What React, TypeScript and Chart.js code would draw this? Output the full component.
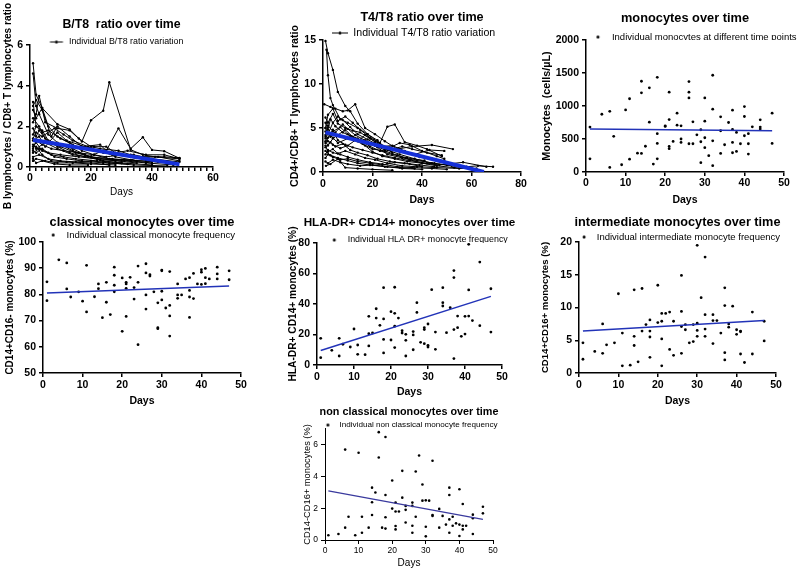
import React, { useEffect, useRef } from 'react';
import { Chart, registerables } from 'chart.js';

Chart.register(...registerables);

const FONT = "'Liberation Sans', Arial, Helvetica, sans-serif";

// ---------------- DATA ----------------
// B/T8 ratio: individual trajectories, [day, ratio]
const btRatioSeries: number[][][] = [
  [[1, 5.1], [2, 3.55], [4, 2.9], [9, 2.1], [13, 1.85], [17, 1.25], [20, 2.3], [24, 2.77], [26, 4.17], [33, 0.85], [37, 0.6], [41, 0.5], [49, 0.4]],
  [[1, 4.6], [2, 3.0], [3, 2.6], [6, 1.6], [9, 1.2], [14, 0.8], [20, 0.5], [28, 0.3], [35, 0.2]],
  [[1, 3.0], [2, 3.3], [4, 2.8], [7, 1.5], [9, 2.0], [13, 1.5], [17, 1.0], [23, 1.1], [25, 0.8], [29, 1.9], [33, 0.9], [37, 1.46], [40, 0.84], [44, 0.78], [49, 0.43]],
  [[1, 2.2], [2, 2.6], [3, 3.5], [5, 2.2], [9, 1.9], [13, 1.8], [16, 1.4], [20, 1.0], [23, 0.9], [29, 0.8], [33, 0.6]],
  [[1, 1.6], [2, 2.0], [4, 1.8], [6, 1.3], [10, 1.1], [14, 0.9], [18, 0.6], [24, 0.3], [30, 0.2]],
  [[1, 1.3], [3, 1.5], [5, 1.0], [9, 1.7], [12, 1.3], [18, 1.0], [22, 0.8], [27, 0.6], [34, 0.5], [42, 0.5], [49, 0.3]],
  [[1, 1.0], [2, 1.2], [4, 0.8], [7, 0.6], [11, 0.5], [15, 0.4], [22, 0.3], [30, 0.2], [40, 0.1]],
  [[1, 0.8], [2, 0.7], [4, 0.9], [8, 0.5], [12, 0.4], [17, 0.3], [24, 0.2], [32, 0.15]],
  [[1, 0.5], [3, 0.6], [6, 0.4], [10, 0.3], [15, 0.25], [20, 0.3], [26, 0.2], [34, 0.1], [45, 0.05]],
  [[1, 0.3], [2, 0.4], [5, 0.3], [9, 0.2], [14, 0.2], [20, 0.15], [28, 0.1]],
  [[1, 2.8], [2, 2.4], [4, 2.9], [6, 2.0], [9, 1.5], [13, 1.2], [17, 0.8], [21, 0.6], [25, 0.5], [30, 0.6], [36, 0.5], [44, 0.5], [49, 0.45]],
  [[1, 1.9], [2, 1.5], [3, 1.8], [6, 1.2], [10, 1.0], [15, 0.7], [20, 0.5], [27, 0.4], [33, 0.3], [40, 0.2]],
  [[1, 1.1], [2, 0.9], [5, 1.2], [9, 0.9], [14, 0.6], [19, 0.5], [24, 0.8], [28, 0.5], [35, 0.3], [42, 0.25], [48, 0.2]],
  [[1, 0.7], [3, 0.9], [6, 0.7], [10, 0.6], [16, 0.5], [22, 0.4], [30, 0.35], [38, 0.3], [46, 0.2]],
  [[1, 1.4], [2, 1.7], [4, 1.5], [8, 1.9], [11, 1.6], [14, 1.3], [19, 1.0], [24, 0.7], [29, 0.6], [34, 0.6], [40, 0.4], [49, 0.25]],
  [[2, 1.0], [4, 0.6], [7, 0.3], [12, 0.25], [20, 0.2], [26, 0.1]],
  [[1, 2.4], [3, 2.0], [5, 1.4], [9, 1.0], [13, 0.7], [18, 0.5], [23, 0.35], [31, 0.3], [38, 0.2], [47, 0.1]],
  [[1, 0.9], [2, 1.3], [4, 1.1], [7, 0.9], [11, 0.8], [16, 0.7], [21, 0.6], [26, 0.4], [33, 0.35], [37, 0.5], [43, 0.3]],
  [[1, 0.4], [2, 0.2], [4, 0.3], [8, 0.15], [13, 0.1], [19, 0.1]],
  [[1, 3.2], [2, 2.0], [4, 1.7], [6, 1.8], [10, 1.4], [14, 1.1], [17, 0.9], [21, 1.0], [25, 1.0], [28, 0.7], [32, 0.8], [38, 0.6], [44, 0.6], [49, 0.4]],
];
const btRatioFit: number[][] = [[1, 1.33], [49, 0.13]];
const btXTicks = [0, 20, 40, 60];
const btXMinorStep = 2;
const btYTicks = [0, 2, 4, 6];

// T4/T8 ratio: individual trajectories, [day, ratio]
const t4t8Series: number[][][] = [
  [[1, 14.9], [2, 13.5], [4, 11.6], [6, 9.1], [9, 7.5], [11, 6.9], [14, 5.5], [18, 4.3], [22, 3.6], [26, 2.5], [31, 2.0], [37, 1.5], [44, 1.0]],
  [[1.4, 13.9], [2, 11.0], [3, 8.4], [4, 7.6], [7, 6.0], [10, 5.6], [14, 5.0], [18, 4.3], [24, 3.0], [28, 2.2]],
  [[0.5, 7.7], [3, 7.4], [5, 7.2], [8, 6.9], [10, 7.0], [13, 7.7], [17, 5.0], [21, 4.3], [25, 3.5], [30, 2.6], [36, 2.9], [44, 3.07], [52.5, 2.6]],
  [[1, 5.0], [2, 6.5], [4, 7.2], [6, 5.8], [9, 6.3], [12, 5.6], [15, 4.8], [19, 3.9], [23, 3.3], [26, 5.15], [29, 5.4], [33, 3.4], [38, 3.0], [42, 2.6], [48, 1.8]],
  [[1, 4.2], [2, 5.3], [4, 4.6], [7, 5.1], [10, 4.3], [14, 3.8], [18, 3.4], [22, 2.8], [26, 2.0], [32, 1.6], [38, 1.3], [45, 1.0], [52, 0.7], [58, 0.6], [62.6, 0.7], [68.7, 0.6]],
  [[1, 3.5], [2, 3.0], [4, 3.8], [6, 4.2], [9, 4.8], [12, 4.0], [16, 3.2], [20, 2.6], [25, 2.4], [30, 1.9], [35, 1.4], [40, 1.0], [46, 0.7], [53, 0.5], [60, 0.4]],
  [[1, 2.8], [3, 3.4], [5, 2.9], [8, 3.2], [11, 2.5], [14, 2.2], [18, 1.9], [22, 1.5], [27, 1.2], [33, 1.0], [39, 0.8], [45, 0.6]],
  [[1, 2.0], [2, 2.5], [4, 2.2], [7, 2.0], [10, 1.7], [14, 1.4], [19, 1.1], [24, 0.9], [30, 0.6], [36, 0.5], [44, 0.4], [50, 0.3]],
  [[1, 1.2], [2, 1.0], [4, 1.4], [7, 1.1], [10, 0.9], [15, 0.7], [20, 0.8], [26, 0.6], [32, 0.4], [40, 0.3]],
  [[1.2, 0.7], [3, 0.9], [6, 1.5], [9, 0.5], [14, 0.4], [20, 0.3], [28, 0.2]],
  [[1, 4.6], [3, 4.0], [5, 4.5], [8, 5.4], [10, 4.9], [13, 4.2], [17, 3.6], [21, 3.0], [25, 2.5], [31, 3.3], [35, 3.1], [40, 2.4], [46, 1.8], [49, 1.5]],
  [[1, 3.8], [2, 4.4], [4, 3.9], [6, 3.3], [10, 3.8], [14, 3.5], [17, 4.2], [21, 3.4], [24, 2.9], [28, 3.0], [33, 2.4], [39, 1.7], [44, 1.5], [49, 1.3]],
  [[1, 5.6], [2, 4.8], [3, 6.0], [5, 5.2], [8, 4.5], [11, 4.1], [15, 3.6], [19, 2.9], [23, 2.4], [28, 2.0], [34, 1.6], [41, 1.3]],
  [[1, 3.0], [2, 2.3], [4, 2.6], [6, 2.1], [9, 2.4], [13, 2.0], [17, 1.6], [21, 1.4], [26, 1.0], [32, 0.7], [38, 0.6], [46, 0.5], [55, 0.4], [62, 0.4]],
  [[1, 6.2], [2, 5.6], [4, 6.6], [6, 5.5], [9, 5.0], [12, 4.7], [15, 4.5], [19, 3.8], [23, 3.2], [27, 2.5], [32, 2.9], [36, 2.6], [42, 2.2], [48, 1.9]],
  [[1, 2.4], [3, 1.9], [6, 1.6], [10, 1.3], [14, 1.0], [19, 0.8], [25, 0.6], [31, 0.5], [37, 0.4]],
  [[1, 4.0], [2, 3.5], [4, 3.1], [7, 2.7], [10, 3.0], [13, 3.6], [17, 3.0], [20, 2.3], [24, 1.8], [29, 1.5], [34, 1.2], [40, 1.0], [47, 0.8], [56.6, 1.1], [66, 0.6]],
  [[1, 1.6], [2, 2.0], [4, 1.7], [7, 1.4], [10, 1.5], [14, 1.2], [19, 1.0], [24, 0.8], [29, 1.1], [35, 0.9], [40, 0.6]],
  [[1, 3.3], [2, 3.9], [4, 4.8], [6, 3.6], [9, 3.1], [12, 2.8], [16, 2.5], [20, 2.2], [24, 1.9], [29, 1.6], [35, 1.3], [42, 1.0], [50, 0.8], [56, 0.6]],
  [[1, 5.0], [2, 4.3], [4, 5.6], [6, 6.3], [8, 5.9], [11, 5.1], [14, 4.3], [18, 3.7], [22, 3.1], [27, 2.8], [31, 2.3], [37, 2.0], [43, 2.5], [49, 2.4]],
];
const t4t8Fit: number[][] = [[1, 4.5], [65, 0]];
const t4t8XTicks = [0, 20, 40, 60, 80];
const t4t8YTicks = [0, 5, 10, 15];

// Monocyte counts (cells/µL), [day, value]
const monocyteCounts: number[][] = [
  [1, 680], [1, 200], [4, 875], [6, 920], [6, 70], [7, 540], [9, 110], [10, 940], [11, 1110], [11, 195],
  [13, 285], [14, 1375], [14, 1200], [14, 282], [15, 390], [16, 1275], [16, 755], [17, 120], [18, 1435], [18, 580],
  [18, 433], [18, 200], [20, 700], [20, 690], [21, 1210], [21, 795], [21, 388], [21, 353], [22, 463], [23, 892],
  [23, 710], [24, 700], [24, 500], [24, 448], [26, 1370], [26, 1210], [26, 1123], [26, 428], [27, 760], [27, 428],
  [28, 564], [29, 640], [29, 458], [29, 141], [30, 1123], [30, 770], [30, 519], [30, 368], [31, 247], [32, 1466],
  [32, 952], [32, 473], [32, 96], [34, 836], [34, 625], [34, 282], [35, 413], [36, 750], [37, 937], [37, 645],
  [37, 448], [37, 292], [38, 600], [38, 312], [39, 428], [40, 992], [40, 841], [40, 549], [41, 580], [41, 428],
  [41, 272], [42, 685], [44, 791], [44, 680], [44, 650], [47, 892], [47, 433],
];
const monocyteFit: number[][] = [[1, 650], [47, 625]];
const monoXTicks = [0, 10, 20, 30, 40, 50];
const monoYTicks = [0, 500, 1000, 1500, 2000];

// Classical monocytes CD14+CD16- (%)
const classicalFreq: number[][] = [
  [1, 84.8], [1, 77.6], [4, 93.2], [6, 92], [6, 82.1], [7, 79], [9, 81], [10, 77.4], [11, 91.1], [11, 73.3],
  [13, 79.1], [14, 84], [14, 82.2], [15, 71.1], [16, 84.6], [16, 77], [17, 72.3], [18, 90.4], [18, 87.3], [18, 83.5],
  [18, 81], [20, 86.3], [20, 65.9], [21, 84.6], [21, 84], [21, 82.3], [21, 71.6], [22, 86.5], [23, 82.6], [23, 78.2],
  [24, 90.8], [24, 84.6], [24, 60.8], [26, 91.7], [26, 88.2], [26, 79.8], [26, 74.4], [27, 87.5], [27, 87], [28, 81],
  [29, 76.8], [29, 67.3], [29, 66.9], [30, 89.3], [30, 89], [30, 81.2], [30, 77.9], [31, 74.8], [32, 88.7], [32, 75.8],
  [32, 71.8], [32, 64.1], [34, 84], [34, 79.8], [34, 78.5], [35, 79.8], [36, 85.9], [37, 86.4], [37, 81.5], [37, 79],
  [37, 71.2], [38, 88], [38, 78.4], [39, 84], [40, 89.4], [40, 88.5], [40, 83.8], [41, 89.9], [41, 86.4], [41, 84.1],
  [42, 85.9], [44, 90.4], [44, 87.8], [44, 85.9], [47, 89], [47, 85.6],
];
const classicalFit: number[][] = [[1, 80.5], [47, 83.2]];
const classicalYTicks = [50, 60, 70, 80, 90, 100];

// HLA-DR+ CD14+ monocytes (%)
const hlaDrFreq: number[][] = [
  [1, 17.5], [1, 4.8], [4, 9.6], [6, 17.5], [6, 5.9], [7, 13.6], [9, 11.8], [10, 23.6], [11, 13.1], [11, 7],
  [13, 6.8], [14, 31.9], [14, 20.5], [14, 12.5], [15, 21], [16, 36.9], [16, 30.8], [17, 26], [18, 50.7], [18, 30.2],
  [18, 16.8], [18, 7.9], [20, 35], [20, 16.4], [21, 51], [21, 33.9], [21, 25.4], [21, 11.4], [22, 30.8], [23, 22.5],
  [23, 21], [24, 20.1], [24, 16.2], [24, 5.9], [26, 21.9], [26, 19.7], [26, 10], [27, 40.9], [27, 34.5], [28, 14.9],
  [29, 24.5], [29, 23.2], [29, 14], [30, 26.9], [30, 12.9], [30, 11.8], [31, 49.4], [32, 21.6], [32, 10.3], [34, 50.7],
  [34, 40.9], [34, 38.7], [35, 21.2], [36, 37.6], [37, 61.9], [37, 57.3], [37, 23.2], [37, 4.2], [38, 32.1], [38, 24.5],
  [39, 18.8], [40, 31.9], [40, 20.3], [41, 79.1], [41, 49.2], [41, 32.1], [42, 29.1], [44, 67.5], [44, 25.8], [47, 50],
  [47, 21.6],
];
const hlaDrFit: number[][] = [[1, 9.5], [47, 45]];
const hlaDrYTicks = [0, 20, 40, 60, 80];

// Intermediate monocytes CD14+CD16+ (%)
const intermediateFreq: number[][] = [
  [1, 4.6], [1, 2.1], [4, 3.3], [6, 7.5], [6, 3], [7, 4.3], [9, 4.6], [10, 12.1], [11, 6.1], [11, 1.1],
  [13, 1.2], [14, 12.7], [14, 5.6], [14, 4.2], [15, 1.7], [16, 12.9], [16, 6.4], [17, 7.4], [18, 8.1], [18, 6.4],
  [18, 5.5], [18, 2.4], [20, 13.4], [20, 7.7], [21, 9.1], [21, 7.9], [21, 5.2], [21, 1.1], [22, 9.1], [23, 9.3],
  [23, 3.6], [24, 7.9], [24, 2.7], [26, 14.9], [26, 9.4], [26, 7.1], [26, 3], [27, 7.4], [27, 6.6], [28, 4.6],
  [29, 7.4], [29, 4.8], [30, 19.5], [30, 7.6], [30, 6.5], [30, 5.6], [31, 11.5], [32, 17.7], [32, 8.9], [32, 6.7],
  [32, 5.6], [34, 8.9], [34, 8], [34, 4.5], [35, 8], [36, 6.1], [37, 13], [37, 10.3], [37, 3.1], [37, 2],
  [38, 7.5], [38, 7], [39, 10.2], [40, 6.6], [40, 5.9], [41, 6.4], [41, 6.3], [41, 2.9], [42, 1.6], [44, 9.3],
  [44, 2.9], [47, 7.9], [47, 4.9],
];
const intermediateFit: number[][] = [[1, 6.4], [47, 8.0]];
const intermediateYTicks = [0, 5, 10, 15, 20];

// Non classical monocytes CD14-CD16+ (%)
const nonClassicalFreq: number[][] = [
  [1, 0.3], [4, 0.38], [6, 5.7], [6, 0.78], [7, 1.47], [9, 0.3], [10, 5.5], [11, 1.47], [11, 0.46], [13, 0.78],
  [14, 3.3], [14, 2.38], [14, 1.58], [15, 3], [16, 6.8], [16, 5.2], [17, 0.78], [18, 6.5], [18, 2.84], [18, 1.43],
  [18, 0.72], [20, 3.75], [20, 1.98], [21, 2.36], [21, 1.8], [21, 0.88], [21, 0.67], [22, 1.8], [23, 4.36], [23, 2.67],
  [24, 2.15], [24, 1.9], [24, 1.1], [26, 2.36], [26, 2.15], [26, 0.9], [26, 0.46], [27, 4.32], [27, 1.47], [28, 5.33],
  [29, 3.5], [29, 2.48], [30, 2.5], [30, 0.84], [30, 0.23], [31, 2.48], [32, 5], [32, 1.58], [32, 1.52], [34, 1.96],
  [34, 0.78], [35, 1.52], [36, 0.97], [37, 3.3], [37, 2.84], [37, 1.3], [37, 0.46], [38, 1.47], [38, 0.9], [39, 1.05],
  [40, 3.2], [40, 0.97], [40, 0.25], [41, 2.27], [41, 0.9], [41, 0.67], [42, 0.9], [44, 1.6], [44, 1.37], [44, 0.38],
  [47, 2.1], [47, 1.68],
];
const nonClassicalFit: number[][] = [[1, 3.1], [47, 1.3]];
const nonClassicalYTicks = [0, 2, 4, 6];
const nonClassicalYMax = 7;

// ---------------- PANELS ----------------
interface Panel {
  key: string;
  title: string;
  legend: string;
  yTitle: string;
  series: number[][][];
  lines: boolean;
  fit: number[][];
  xTicks: number[];
  xMinorStep?: number;
  yTicks: number[];
  yMax?: number;
  box: { L: number; T: number; R: number; B: number };
  titleFull: boolean;
  titleY: number; titleSize: number;
  legendY: number; legendSize: number; markerX: number; textX: number; markerW: number;
  yTitleX: number; yTitleSize: number; yTitleBold: boolean;
  tickSize: number; tickBold: boolean; xTickY: number;
  daysY: number; daysSize: number; daysBold: boolean;
  axisW: number; fitColor: string; fitW: number; pointR: number;
}

const panels: Panel[] = [
  {
    key: 'bt8', title: 'B/T8  ratio over time', legend: 'Individual B/T8 ratio variation',
    yTitle: 'B lymphocytes / CD8+ T lymphocytes ratio', series: btRatioSeries, lines: true, fit: btRatioFit,
    xTicks: btXTicks, xMinorStep: btXMinorStep, yTicks: btYTicks, box: { L: 30, T: 45, R: 213, B: 167 }, titleFull: false,
    titleY: 25, titleSize: 12.3, legendY: 42, legendSize: 8.9, markerX: 56.5, textX: 69, markerW: 13,
    yTitleX: 8, yTitleSize: 10.2, yTitleBold: true, tickSize: 10.5, tickBold: true, xTickY: 178,
    daysY: 192, daysSize: 10, daysBold: false, axisW: 1.5, fitColor: '#1530d8', fitW: 4, pointR: 1.2,
  },
  {
    key: 't4t8', title: 'T4/T8 ratio over time', legend: 'Individual T4/T8 ratio variation',
    yTitle: 'CD4+/CD8+ T lymphocytes ratio', series: t4t8Series, lines: true, fit: t4t8Fit,
    xTicks: t4t8XTicks, yTicks: t4t8YTicks, box: { L: 323, T: 40, R: 521, B: 172 }, titleFull: false,
    titleY: 18, titleSize: 12.6, legendY: 33, legendSize: 10.6, markerX: 340, textX: 353.3, markerW: 16,
    yTitleX: 295, yTitleSize: 10.7, yTitleBold: true, tickSize: 10.5, tickBold: true, xTickY: 184,
    daysY: 200, daysSize: 10.5, daysBold: true, axisW: 1.5, fitColor: '#1530d8', fitW: 4, pointR: 1.2,
  },
  {
    key: 'mono', title: 'monocytes over time', legend: 'Individual monocytes at different time points',
    yTitle: 'Monocytes  (cells/µL)', series: [monocyteCounts], lines: false, fit: monocyteFit,
    xTicks: monoXTicks, yTicks: monoYTicks, box: { L: 586, T: 40, R: 784, B: 172 }, titleFull: false,
    titleY: 18, titleSize: 12.8, legendY: 37, legendSize: 9.5, markerX: 597.7, textX: 611.7, markerW: 4,
    yTitleX: 547, yTitleSize: 10.8, yTitleBold: true, tickSize: 10.5, tickBold: true, xTickY: 183,
    daysY: 200, daysSize: 10.5, daysBold: true, axisW: 1.5, fitColor: '#2233b8', fitW: 1.5, pointR: 1.4,
  },
  {
    key: 'classical', title: 'classical monocytes over time', legend: 'Individual classical monocyte frequency',
    yTitle: 'CD14+CD16- monocytes (%)', series: [classicalFreq], lines: false, fit: classicalFit,
    xTicks: monoXTicks, yTicks: classicalYTicks, box: { L: 43, T: 242, R: 241, B: 373 }, titleFull: false,
    titleY: 222, titleSize: 12.8, legendY: 235, legendSize: 9.6, markerX: 53.3, textX: 66.7, markerW: 4,
    yTitleX: 10, yTitleSize: 10, yTitleBold: true, tickSize: 10.5, tickBold: true, xTickY: 385,
    daysY: 401, daysSize: 10.5, daysBold: true, axisW: 1.5, fitColor: '#2233b8', fitW: 1.5, pointR: 1.4,
  },
  {
    key: 'hladr', title: 'HLA-DR+ CD14+ monocytes over time', legend: 'Individual HLA DR+ monocyte frequency',
    yTitle: 'HLA-DR+ CD14+ monocytes (%)', series: [hlaDrFreq], lines: false, fit: hlaDrFit,
    xTicks: monoXTicks, yTicks: hlaDrYTicks, box: { L: 317, T: 243, R: 502, B: 365 }, titleFull: true,
    titleY: 223, titleSize: 11.7, legendY: 240, legendSize: 8.9, markerX: 334.3, textX: 347.7, markerW: 4,
    yTitleX: 293, yTitleSize: 10.2, yTitleBold: true, tickSize: 10.5, tickBold: true, xTickY: 377,
    daysY: 392, daysSize: 10.5, daysBold: true, axisW: 1.5, fitColor: '#2233b8', fitW: 1.5, pointR: 1.4,
  },
  {
    key: 'intermediate', title: 'intermediate monocytes over time', legend: 'Individual intermediate monocyte frequency',
    yTitle: 'CD14+CD16+ monocytes (%)', series: [intermediateFreq], lines: false, fit: intermediateFit,
    xTicks: monoXTicks, yTicks: intermediateYTicks, box: { L: 579, T: 242, R: 776, B: 373 }, titleFull: true,
    titleY: 222, titleSize: 12.7, legendY: 237, legendSize: 9.5, markerX: 584, textX: 596.7, markerW: 4,
    yTitleX: 545, yTitleSize: 9.6, yTitleBold: true, tickSize: 10.5, tickBold: true, xTickY: 385,
    daysY: 401, daysSize: 10.5, daysBold: true, axisW: 1.5, fitColor: '#2233b8', fitW: 1.5, pointR: 1.4,
  },
  {
    key: 'nonclassical', title: 'non classical monocytes over time', legend: 'Individual non classical monocyte frequency',
    yTitle: 'CD14-CD16+ monocytes (%)', series: [nonClassicalFreq], lines: false, fit: nonClassicalFit,
    xTicks: monoXTicks, yTicks: nonClassicalYTicks, yMax: nonClassicalYMax, box: { L: 325, T: 429, R: 493, B: 540 },
    titleFull: true,
    titleY: 412, titleSize: 10.8, legendY: 425, legendSize: 8.1, markerX: 325, textX: 336.7, markerW: 4,
    yTitleX: 307, yTitleSize: 9.3, yTitleBold: false, tickSize: 8.5, tickBold: false, xTickY: 551,
    daysY: 563, daysSize: 10, daysBold: false, axisW: 1, fitColor: '#3a3a9e', fitW: 1.3, pointR: 1.3,
  },
];

let measureCtx: CanvasRenderingContext2D | null = null;
function measure(text: string, size: number, bold: boolean) {
  if (!measureCtx) measureCtx = document.createElement('canvas').getContext('2d');
  if (!measureCtx) return text.length * size * 0.5;
  measureCtx.font = `${bold ? 'bold ' : ''}${size}px ${FONT}`;
  return measureCtx.measureText(text).width;
}

function geometry(p: Panel) {
  const { L, T, R, B } = p.box;
  const tLH = p.titleSize * 1.2;
  const yLH = p.yTitleSize * 1.2;
  const yTitleLeft = p.yTitleX - yLH / 2;
  const yLen = measure(p.yTitle, p.yTitleSize, p.yTitleBold);
  const plotMid = (T + B) / 2;

  const ct = Math.floor(Math.min(p.titleY - tLH / 2 - 2, plotMid - yLen / 2 - 2));
  const padTop = p.titleY - tLH / 2 - ct;
  const titlePadBottom = Math.max(0, p.legendY - p.legendSize / 2 - p.titleY - tLH / 2);
  const legendTop = p.titleY + tLH / 2 + titlePadBottom;
  const legendH = Math.max(1, T - legendTop);

  const textW = measure(p.legend, p.legendSize, false);
  const pwBase = 2 * (p.textX - p.markerX) - p.legendSize;
  const C = (L + R) / 2;
  let regionRight: number;
  let leftPad = 0;
  if (!p.titleFull) {
    const legendCenter = p.textX - (pwBase + p.legendSize / 2) / 2 + textW / 2;
    regionRight = Math.max(2 * legendCenter - yTitleLeft, R + 8);
  } else {
    regionRight = L + R - yTitleLeft;
    leftPad = Math.max(0, 2 * p.textX - 2 * C - pwBase - p.legendSize / 2 + textW);
  }
  const pw = Math.round(pwBase + leftPad);
  const markerCenter = pw - pwBase / 2;

  const cl = Math.floor(yTitleLeft - 1);
  const padLeft = yTitleLeft - cl;
  const yW = L - yTitleLeft;
  const W = Math.ceil(regionRight + 2 - cl);
  const padRight = cl + W - regionRight;
  const dummyW = regionRight - R;

  const dLH = p.daysSize * 1.2;
  const xH = p.daysY - B + dLH / 2;
  const H = Math.ceil(Math.max(B + xH + 2, plotMid + yLen / 2 + 2) - ct);
  const padBottom = ct + H - (B + xH);
  const tickPad = Math.max(0, p.xTickY - B - 4 - p.tickSize * 0.6);
  return { ct, cl, W, H, padTop, padLeft, padRight, padBottom, titlePadBottom, legendH, yW, dummyW, xH, tickPad, pw, markerCenter };
}

function markerImage(lines: boolean, w: number, center: number, markerW: number) {
  const c = document.createElement('canvas');
  c.width = Math.max(1, w);
  c.height = 5;
  const ctx = c.getContext('2d')!;
  ctx.fillStyle = '#000';
  ctx.strokeStyle = '#000';
  if (lines) {
    ctx.lineWidth = 1;
    ctx.beginPath();
    ctx.moveTo(center - markerW / 2, 2.5);
    ctx.lineTo(center + markerW / 2, 2.5);
    ctx.stroke();
  }
  ctx.beginPath();
  ctx.arc(center, 2.5, 1.5, 0, Math.PI * 2);
  ctx.fill();
  return c;
}

function PanelChart({ p }: { p: Panel }) {
  const ref = useRef<HTMLCanvasElement | null>(null);
  const g = geometry(p);

  useEffect(() => {
    if (!ref.current) return;
    const step = (t: number[]) => t[1] - t[0];
    const font = (size: number, bold: boolean) => ({ family: FONT, size, weight: bold ? 'bold' : 'normal' } as any);
    const toXY = (pts: number[][]) => pts.map(([x, y]) => ({ x, y }));

    const datasets: any[] = p.series.map((s, i) => ({
      label: i === 0 ? p.legend : '',
      data: toXY(s),
      showLine: p.lines,
      borderColor: '#000',
      backgroundColor: '#000',
      borderWidth: 1,
      pointRadius: p.pointR,
      pointHoverRadius: p.pointR,
      pointBorderWidth: 0,
      pointBackgroundColor: '#000',
      tension: 0,
      clip: false,
      order: 1,
    }));
    datasets.push({
      label: '',
      data: toXY(p.fit),
      showLine: true,
      borderColor: p.fitColor,
      backgroundColor: p.fitColor,
      borderWidth: p.fitW,
      pointRadius: 0,
      pointHoverRadius: 0,
      order: -1,
    });

    const axisCommon = {
      grid: { display: true, drawOnChartArea: false, drawTicks: true, tickLength: 4, color: '#000', lineWidth: p.axisW },
      border: { display: true, color: '#000', width: p.axisW },
    };
    const plain = (v: any) => String(v);
    const xLabelStep = step(p.xTicks);
    const xLabel = (v: any) => (p.xMinorStep && Math.abs(v % xLabelStep) > 1e-9 ? '' : String(v));

    const chart = new Chart(ref.current, {
      type: 'scatter',
      data: { datasets },
      options: {
        animation: false,
        responsive: false,
        devicePixelRatio: 1,
        events: [],
        layout: { padding: { top: g.padTop, left: g.padLeft, right: g.padRight, bottom: g.padBottom } },
        plugins: {
          tooltip: { enabled: false },
          title: {
            display: true,
            text: p.title,
            color: '#000',
            fullSize: p.titleFull,
            font: { family: FONT, size: p.titleSize, weight: 'bold' },
            padding: { top: 0, bottom: g.titlePadBottom },
          },
          legend: {
            display: true,
            position: 'top',
            align: 'center',
            fullSize: true,
            maxHeight: g.legendH,
            labels: {
              color: '#000',
              font: { family: FONT, size: p.legendSize },
              padding: 0,
              usePointStyle: true,
              pointStyle: markerImage(p.lines, g.pw, g.markerCenter, p.markerW),
              pointStyleWidth: g.pw,
              filter: (item: any) => item.datasetIndex === 0,
            },
          },
        },
        scales: {
          x: {
            type: 'linear',
            position: 'bottom',
            min: p.xTicks[0],
            max: p.xTicks[p.xTicks.length - 1],
            ...axisCommon,
            ticks: {
              stepSize: p.xMinorStep ?? xLabelStep,
              color: '#000',
              font: font(p.tickSize, p.tickBold),
              padding: g.tickPad,
              maxRotation: 0,
              autoSkip: false,
              includeBounds: false,
              callback: xLabel,
            },
            title: { display: true, text: 'Days', color: '#000', font: font(p.daysSize, p.daysBold), padding: 0 },
            afterFit: (s: any) => { s.height = g.xH; },
          },
          y: {
            type: 'linear',
            position: 'left',
            min: p.yTicks[0],
            max: p.yMax ?? p.yTicks[p.yTicks.length - 1],
            ...axisCommon,
            ticks: {
              stepSize: step(p.yTicks),
              color: '#000',
              font: font(p.tickSize, p.tickBold),
              padding: 3,
              includeBounds: false,
              callback: plain,
            },
            title: { display: true, text: p.yTitle, color: '#000', font: font(p.yTitleSize, p.yTitleBold), padding: 0 },
            afterFit: (s: any) => { s.width = g.yW; },
          },
          yr: {
            type: 'linear',
            position: 'right',
            display: true,
            ticks: { display: false },
            grid: { display: false },
            border: { display: false },
            title: { display: false },
            afterFit: (s: any) => { s.width = g.dummyW; },
          },
        },
      } as any,
    });
    return () => chart.destroy();
  }, []);

  return (
    <canvas
      ref={ref}
      width={g.W}
      height={g.H}
      style={{ position: 'absolute', left: g.cl, top: g.ct, width: g.W, height: g.H }}
    />
  );
}

export default function App() {
  return (
    <div
      style={{
        position: 'fixed', left: 0, top: 0, width: 800, height: 570,
        overflow: 'hidden', background: '#fff',
      }}
    >
      {panels.map((p) => (
        <PanelChart key={p.key} p={p} />
      ))}
    </div>
  );
}
